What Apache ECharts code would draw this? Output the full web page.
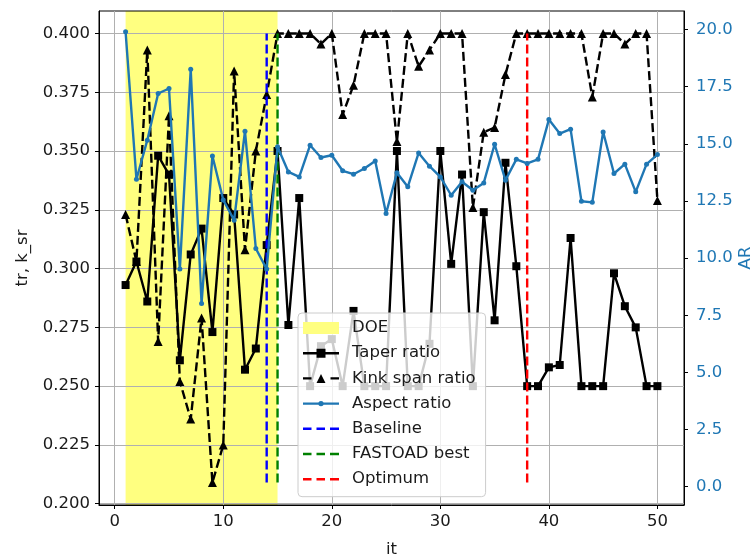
<!DOCTYPE html>
<html><head><meta charset="utf-8">
<script src="https://cdn.jsdelivr.net/npm/echarts@6/dist/echarts.min.js"></script>
<style>html,body{margin:0;padding:0;background:#fff;overflow:hidden}#c{width:756px;height:559px}</style>
</head><body><div id="c"></div>
<script>
const iterations = Array.from({length: 50}, (_, k) => k + 1);
const taperRatio = [0.293,0.303,0.286,0.348,0.340,0.261,0.306,0.317,0.273,0.330,
  0.323,0.257,0.266,0.310,0.350,0.276,0.330,0.250,0.267,0.270,
  0.250,0.282,0.250,0.250,0.250,0.350,0.250,0.250,0.268,0.350,
  0.302,0.340,0.250,0.324,0.278,0.345,0.301,0.250,0.250,0.258,
  0.259,0.313,0.250,0.250,0.250,0.298,0.284,0.275,0.250,0.250];
const kinkSpanRatio = [0.323,0.303,0.393,0.269,0.365,0.252,0.236,0.279,0.209,0.225,
  0.384,0.308,0.350,0.374,0.400,0.400,0.400,0.400,0.3955,0.400,
  0.3655,0.378,0.400,0.400,0.400,0.354,0.400,0.386,0.393,0.400,
  0.400,0.400,0.326,0.358,0.360,0.3825,0.400,0.400,0.400,0.400,
  0.400,0.400,0.400,0.373,0.400,0.400,0.3955,0.400,0.400,0.329];
const aspectRatio = [19.9,13.45,15.16,17.2,17.42,9.52,18.26,8.02,14.47,12.54,
  11.66,15.55,10.42,9.52,14.87,13.77,13.55,14.94,14.4,14.5,
  13.82,13.67,13.92,14.25,11.95,13.73,13.12,14.6,14.02,13.55,
  12.75,13.34,12.97,13.29,14.98,13.41,14.32,14.14,14.32,16.06,
  15.45,15.64,12.49,12.44,15.52,13.7,14.11,12.9,14.11,14.53];
const xTicks = [0,10,20,30,40,50];
const leftTicks = [0.200,0.225,0.250,0.275,0.300,0.325,0.350,0.375,0.400];
const rightTicks = [0,2.5,5,7.5,10,12.5,15,17.5,20];
const doeRange = [1, 15];
const refNames = ['Baseline','FASTOAD best','Optimum'];
const refIters = [14, 15, 38];
const refColors = ['#0000ff','#008000','#ff0000'];

const font = 'DejaVu Sans';
const fs = 16.5;
const txt = '#1a1a1a';
const dash = [9, 4];
const lw = 2.4;
const kMin = Math.min(...kinkSpanRatio), kMax = Math.max(...kinkSpanRatio);
const xMin = 1 - 0.05*49, xMax = 50 + 0.05*49;
const yMin = kMin - 0.05*(kMax-kMin), yMax = kMax + 0.05*(kMax-kMin);

// legend handle icons (36 x 12 box)
const iconTaper = 'path://M0 4.8H36V7.2H0Z M13.5 1.5H22.5V10.5H13.5Z';
const iconKink = 'path://M0 4.8H8.5V7.2H0Z M27.5 4.8H36V7.2H27.5Z M13.5 10.5L18 1.5L22.5 10.5Z';
const iconAR = 'path://M0 4.9H36V7.1H0Z M15.3 6A2.7 2.7 0 1 1 20.7 6A2.7 2.7 0 1 1 15.3 6Z';
const iconDash = 'path://M0 4.8H8.5V7.2H0Z M13.5 4.8H22V7.2H13.5Z M27 4.8H36V7.2H27Z';

const pairs = arr => iterations.map((x,i)=>[x, arr[i]]);

const series = [
  {name:'DOE', type:'line', data:[], z:-1, itemStyle:{color:'#ffff80'},
   markArea:{silent:true, z:-1, itemStyle:{color:'#ffff80'}, data:[[{xAxis:doeRange[0]},{xAxis:doeRange[1]}]]}},
  {name:'Taper ratio', type:'line', yAxisIndex:0, data:pairs(taperRatio), symbol:'rect', symbolSize:8,
   showAllSymbol:true, lineStyle:{color:'#000', width:lw}, itemStyle:{color:'#000'}, z:3},
  {name:'Kink span ratio', type:'line', yAxisIndex:0, data:pairs(kinkSpanRatio), symbol:'triangle', symbolSize:9,
   showAllSymbol:true, lineStyle:{color:'#000', width:lw, type:dash}, itemStyle:{color:'#000'}, z:3},
  {name:'Aspect ratio', type:'line', yAxisIndex:1, data:pairs(aspectRatio), symbol:'circle', symbolSize:5,
   showAllSymbol:true, lineStyle:{color:'#1f77b4', width:lw}, itemStyle:{color:'#1f77b4'}, z:5}
];
refNames.forEach((n,i)=>{
  series.push({name:n, type:'line', yAxisIndex:0, data:[[refIters[i], kMin],[refIters[i], kMax]],
    symbol:'none', lineStyle:{color:refColors[i], width:lw, type:dash}, itemStyle:{color:refColors[i]}, z:4});
});

const chart = echarts.init(document.getElementById('c'), null, {renderer:'canvas', width:756, height:559});
chart.setOption({
  animation:false,
  grid:{left:99, right:72, top:11, bottom:54, show:true, borderColor:'#000', borderWidth:1,
    backgroundColor:'transparent', containLabel:false, outerBoundsMode:'none'},
  xAxis:{type:'value', z:1, min:xMin, max:xMax, name:'it', nameLocation:'middle', nameGap:36,
    nameTextStyle:{fontFamily:font, fontSize:fs, color:txt},
    axisLine:{show:true, onZero:false, lineStyle:{color:'#000'}},
    axisTick:{show:true, inside:false, length:4, customValues:xTicks, lineStyle:{color:'#000'}},
    axisLabel:{customValues:xTicks, margin:8, fontFamily:font, fontSize:fs, color:txt},
    splitLine:{show:true, lineStyle:{color:'#b0b0b0', width:1}}},
  yAxis:[
    {type:'value', z:1, position:'left', min:yMin, max:yMax, name:'tr, k_sr', nameLocation:'middle', nameGap:68,
     nameTextStyle:{fontFamily:font, fontSize:fs, color:txt},
     axisLine:{show:true, onZero:false, lineStyle:{color:'#000'}},
     axisTick:{show:true, inside:false, length:4, customValues:leftTicks, lineStyle:{color:'#000'}},
     axisLabel:{customValues:leftTicks, margin:9, fontFamily:font, fontSize:fs, color:txt, formatter:v=>v.toFixed(3)},
     splitLine:{show:true, lineStyle:{color:'#b0b0b0', width:1}}},
    {type:'value', z:1, position:'right', min:-0.80, max:20.81, name:'AR', nameLocation:'middle', nameGap:53,
     nameMoveOverlap:false,
     nameTextStyle:{fontFamily:font, fontSize:fs, color:'#1f77b4'},
     axisLine:{show:true, onZero:false, lineStyle:{color:'#000'}},
     axisTick:{show:true, inside:false, length:4, customValues:rightTicks, lineStyle:{color:'#000'}},
     axisLabel:{customValues:rightTicks, margin:12, fontFamily:font, fontSize:fs, color:'#1f77b4', formatter:v=>v.toFixed(1)},
     splitLine:{show:false}}
  ],
  legend:{orient:'vertical', left:298, top:313, itemWidth:36, itemHeight:12, itemGap:8.2,
    padding:[6.5,10,9,5], backgroundColor:'rgba(255,255,255,0.8)', borderColor:'#cccccc', borderWidth:1, borderRadius:4,
    textStyle:{fontFamily:font, fontSize:fs, color:txt, lineHeight:17, padding:[0,0,0,8]},
    data:[{name:'DOE', icon:'rect'},
      {name:'Taper ratio', icon:iconTaper},
      {name:'Kink span ratio', icon:iconKink},
      {name:'Aspect ratio', icon:iconAR},
      {name:'Baseline', icon:iconDash},
      {name:'FASTOAD best', icon:iconDash},
      {name:'Optimum', icon:iconDash}]},
  series:series
});
</script></body></html>
